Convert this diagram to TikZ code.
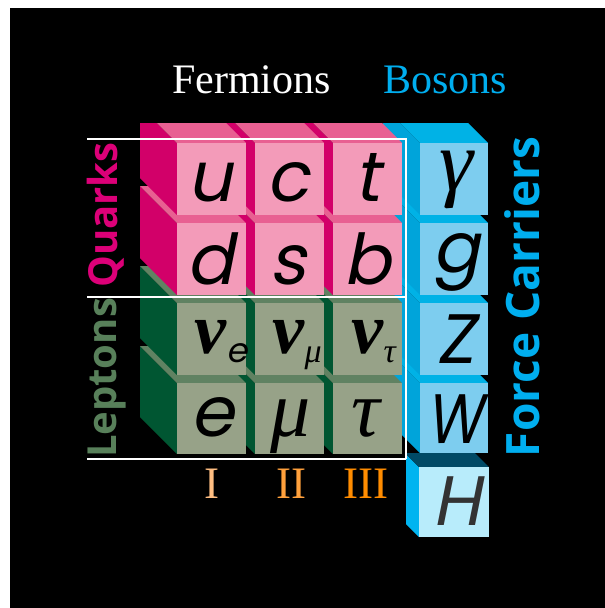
\documentclass[tikz,border=0pt]{standalone}
\usepackage{fontspec}
\setmainfont{Liberation Serif}
\newfontfamily\letterfont{Poppins}[FakeSlant=0.2]
\newfontfamily\labelfont{Open Sans}
\definecolor{pinkF}{HTML}{F39BB9}
\definecolor{pinkT}{HTML}{E86092}
\definecolor{pinkS}{HTML}{D20069}
\definecolor{greenF}{HTML}{97A288}
\definecolor{greenT}{HTML}{608262}
\definecolor{greenS}{HTML}{005632}
\definecolor{blueF}{HTML}{7DCDEF}
\definecolor{blueT}{HTML}{00B2E6}
\definecolor{blueS}{HTML}{00A4DA}
\definecolor{hF}{HTML}{B8ECFB}
\definecolor{hT}{HTML}{004A66}
\definecolor{hS}{HTML}{00B4F0}
\definecolor{bosonblue}{HTML}{00AEEF}
\definecolor{quarkmag}{HTML}{DC0078}
\definecolor{leptgreen}{HTML}{58805A}
\definecolor{genI}{HTML}{FFBE82}
\definecolor{genII}{HTML}{FFA03C}
\definecolor{genIII}{HTML}{FF8C00}
\newcommand\drawcube[7]{%
  \fill[#7] (#1,#2) -- (#1-37,#2-37) -- (#1-37,#4-37) -- (#1,#4) -- cycle;
  \fill[#6] (#1,#2) -- (#1-37,#2-37) -- (#3-37,#2-37) -- (#3,#2) -- cycle;
  \fill[#5] (#1,#2) rectangle (#3,#4);
}
\tikzset{
  sym/.style={inner sep=0pt, anchor=base, text height=36pt, text depth=0pt, font=\letterfont\fontsize{70}{70}\selectfont},
  gsym/.style={inner sep=0pt, anchor=base, text height=32pt, text depth=0pt, font=\bfseries\itshape\fontsize{72}{72}\selectfont},
  subsym/.style={inner sep=0pt, anchor=base west, text height=16pt, text depth=0pt, font=\itshape\fontsize{34}{34}\selectfont},
  frame/.style={draw=white, line width=2.5pt},
  gen/.style={inner sep=0pt, anchor=base, font=\fontsize{45}{45}\selectfont},
  grouplabel/.style={inner sep=0pt, rotate=90, font=\labelfont\bfseries\fontsize{40}{40}\selectfont}
}
\begin{document}
\begin{tikzpicture}[x=1pt,y=-1pt]
\useasboundingbox (0,0) rectangle (605,608);
\fill[white] (0,0) rectangle (605,608);
\fill[black] (10,8) rectangle (605,608);
\begin{scope}
\clip (0,123) rectangle (605,608);
% bosons
\drawcube{420}{383}{488}{453}{blueF}{blueT}{blueS}
\drawcube{420}{303}{488}{375}{blueF}{blueT}{blueS}
\drawcube{420}{223}{488}{295}{blueF}{blueT}{blueS}
\drawcube{420}{143}{488}{215}{blueF}{blueT}{blueS}
% leptons
\drawcube{333}{383}{402}{454}{greenF}{greenT}{greenS}
\drawcube{255}{383}{324}{454}{greenF}{greenT}{greenS}
\drawcube{177}{383}{246}{454}{greenF}{greenT}{greenS}
\drawcube{333}{303}{402}{375}{greenF}{greenT}{greenS}
\drawcube{255}{303}{324}{375}{greenF}{greenT}{greenS}
\drawcube{177}{303}{246}{375}{greenF}{greenT}{greenS}
% quarks
\drawcube{333}{223}{402}{295}{pinkF}{pinkT}{pinkS}
\drawcube{255}{223}{324}{295}{pinkF}{pinkT}{pinkS}
\drawcube{177}{223}{246}{295}{pinkF}{pinkT}{pinkS}
\drawcube{333}{143}{402}{215}{pinkF}{pinkT}{pinkS}
\drawcube{255}{143}{324}{215}{pinkF}{pinkT}{pinkS}
\drawcube{177}{143}{246}{215}{pinkF}{pinkT}{pinkS}
\end{scope}
\begin{scope}
\clip (406,453) rectangle (605,608);
\drawcube{419}{467}{489}{537}{hF}{hT}{hS}
\end{scope}
% frame lines
\draw[frame] (87,139) -- (406,139) -- (406,459);
\draw[frame] (87,297) -- (406,297);
\draw[frame] (87,459) -- (406,459);
% particle symbols
\node[sym] (u) at (210,201) {u};
\node[sym] (c) at (288,201) {c};
\node[sym] (t) at (367,201) {t};
\node[sym] (d) at (210,284) {d};
\node[sym] (s) at (288,284) {s};
\node[sym] (b) at (367,284) {b};
\node[gsym, anchor=base west] (nue) at (194,353) {ν};
\node[subsym, font=\letterfont\fontsize{34}{34}\selectfont] (nuesub) at (nue.base east) [yshift=-9pt] {e};
\node[gsym, anchor=base west] (num) at (272,353) {ν};
\node[subsym] (numsub) at (num.base east) [yshift=-9pt] {μ};
\node[gsym, anchor=base west] (nut) at (351,353) {ν};
\node[subsym] (nutsub) at (nut.base east) [yshift=-9pt] {τ};
\node[sym] (e) at (212,436) {e};
\node[gsym, font=\itshape\fontsize{80}{80}\selectfont] (mu) at (291,436) {μ};
\node[gsym, font=\itshape\fontsize{80}{80}\selectfont] (tau) at (366,436) {τ};
\node[gsym, font=\itshape\fontsize{86}{86}\selectfont] (gamma) at (456,190) {γ};
\node[sym] (g) at (456,272) {g};
\node[sym] (Z) at (455,363) {Z};
\node[sym] (W) at (455,443) {\scalebox{0.82}[1]{W}};
\node[sym, text={black!80}] (H) at (457,525) {H};
% generation numerals
\node[gen, text=genI] (g1) at (212,498) {I};
\node[gen, text=genII] (g2) at (291,498) {II};
\node[gen, text=genIII] (g3) at (366,498) {III};
% headings
\node[inner sep=0pt, anchor=base west, text=white, font=\fontsize{42}{42}\selectfont] (ferm) at (172,93) {Fermions};
\node[inner sep=0pt, anchor=base west, text=bosonblue, font=\fontsize{42}{42}\selectfont] (bos) at (383,93) {Bosons};
\node[grouplabel, text=quarkmag] (quarks) at (106,215) {Quarks};
\node[grouplabel, text=leptgreen] (leptons) at (107,378) {Leptons};
\node[grouplabel, text=bosonblue, font=\labelfont\bfseries\fontsize{46}{46}\selectfont] (fc) at (522,297) {Force Carriers};
\end{tikzpicture}
\end{document}
